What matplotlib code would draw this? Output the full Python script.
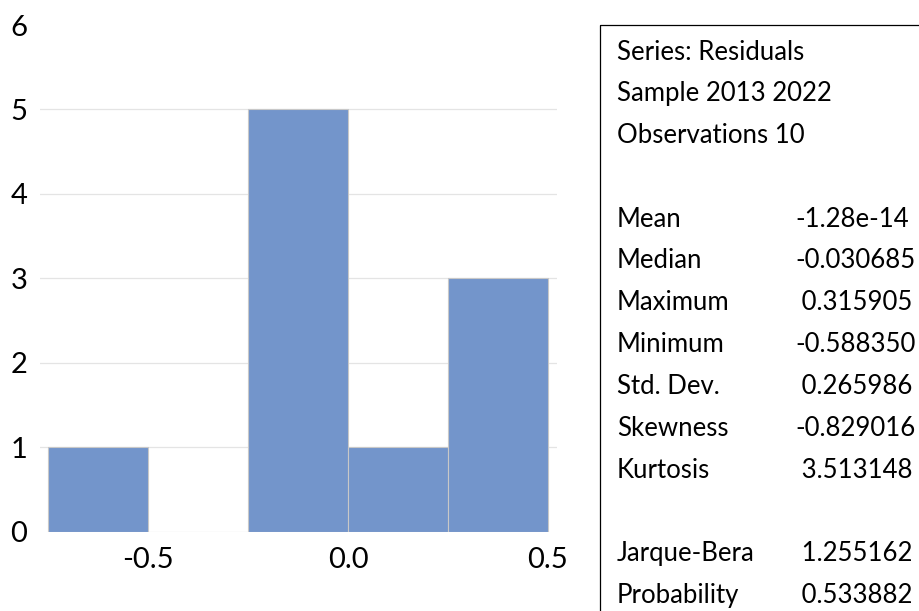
import matplotlib
matplotlib.use("Agg")
import matplotlib.pyplot as plt
from matplotlib.patches import Rectangle

# ---- data ----
bin_edges = [-0.75, -0.5, -0.25, 0.0, 0.25, 0.5]
counts = [1, 0, 5, 1, 3]
x_ticks = [-0.5, 0.0, 0.5]
x_tick_labels = ["-0.5", "0.0", "0.5"]
y_ticks = [0, 1, 2, 3, 4, 5, 6]

header_lines = ["Series: Residuals", "Sample 2013 2022", "Observations 10"]
stat_names = ["Mean", "Median", "Maximum", "Minimum", "Std. Dev.", "Skewness", "Kurtosis"]
stat_values = ["-1.28e-14", "-0.030685", " 0.315905", "-0.588350", " 0.265986", "-0.829016", " 3.513148"]
test_names = ["Jarque-Bera", "Probability"]
test_values = [" 1.255162", " 0.533882"]

FONT = ["Lato", "DejaVu Sans"]
plt.rcParams["font.family"] = FONT

W, H = 920, 611
fig = plt.figure(figsize=(W / 100, H / 100), dpi=100)

# axes placement in pixels
ax_l, ax_r, ax_t, ax_b = 40, 557, 25, 531.7
ax = fig.add_axes([ax_l / W, 1 - ax_b / H, (ax_r - ax_l) / W, (ax_b - ax_t) / H])

widths = [bin_edges[i + 1] - bin_edges[i] for i in range(len(counts))]
ax.bar(bin_edges[:-1], counts, width=widths, align="edge",
       color="#7395CB", edgecolor="#C8C8C8", linewidth=0.8, zorder=3)

ax.set_xlim(-0.77, 0.5225)
ax.set_ylim(0, 6)
ax.set_yticks(y_ticks)
ax.set_yticklabels([str(v) for v in y_ticks])
ax.set_xticks(x_ticks)
ax.set_xticklabels(x_tick_labels)
for v in y_ticks[1:-1]:
    ax.axhline(v, color="#E4E4E4", linewidth=0.9, zorder=1)
for s in ax.spines.values():
    s.set_visible(False)
ax.tick_params(axis="both", length=0, labelsize=21, colors="black")
ax.tick_params(axis="y", pad=9)
ax.tick_params(axis="x", pad=11)

# stats box
box = Rectangle((599.5 / W, 1 - 24.5 / H), 1.0, -1.0, transform=fig.transFigure,
                fill=False, edgecolor="black", linewidth=0.9, clip_on=True)
fig.patches.append(box)

fs = 18.5
lab_x = 617 / W
val_x = 795 / W
step = 41.8
y0 = 52
lines = []
for t in header_lines:
    lines.append((t, None))
lines.append((None, None))
for n, v in zip(stat_names, stat_values):
    lines.append((n, v))
lines.append((None, None))
for n, v in zip(test_names, test_values):
    lines.append((n, v))

for i, (n, v) in enumerate(lines):
    y = 1 - (y0 + i * step) / H
    if n:
        fig.text(lab_x, y, n, fontsize=fs, va="center", ha="left", color="black")
    if v:
        fig.text(val_x, y, v, fontsize=fs, va="center", ha="left", color="black")

fig.savefig("out.png", dpi=100)
